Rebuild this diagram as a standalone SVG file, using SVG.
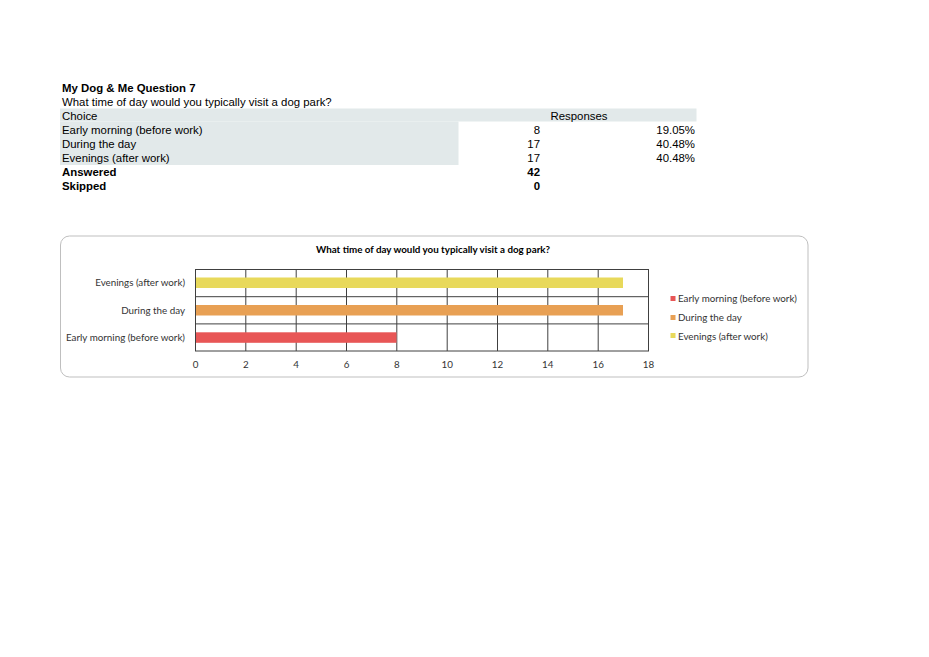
<svg xmlns="http://www.w3.org/2000/svg" width="929" height="657" viewBox="0 0 929 657">
<style>
.t{font-family:"Liberation Sans",Arial,sans-serif;font-size:11.4px;fill:#000}
.b{font-weight:bold}
.r{text-anchor:end}
.m{text-anchor:middle}
.c{font-family:Lato,"Open Sans",sans-serif;font-size:9.8px;fill:#333}
.ct{font-family:Lato,"Open Sans",sans-serif;font-size:9.8px;font-weight:bold;fill:#000}
.g{stroke:#404040;stroke-width:1;fill:none}
</style>
<rect width="929" height="657" fill="#fff"/>
<g id="table">
<rect x="60" y="108.5" width="636.5" height="13" fill="#e2e9ea"/>
<rect x="60" y="121.5" width="398.5" height="43.5" fill="#e2e9ea"/>
<text class="t b" x="62" y="91.5">My Dog &amp; Me Question 7</text>
<text class="t" x="62" y="105.5">What time of day would you typically visit a dog park?</text>
<text class="t" x="62" y="119.5">Choice</text>
<text class="t m" x="579" y="119.5">Responses</text>
<text class="t" x="62" y="133.5">Early morning (before work)</text>
<text class="t r" x="540" y="133.5">8</text>
<text class="t r" x="695" y="133.5">19.05%</text>
<text class="t" x="62" y="147.5">During the day</text>
<text class="t r" x="540" y="147.5">17</text>
<text class="t r" x="695" y="147.5">40.48%</text>
<text class="t" x="62" y="161.5">Evenings (after work)</text>
<text class="t r" x="540" y="161.5">17</text>
<text class="t r" x="695" y="161.5">40.48%</text>
<text class="t b" x="62" y="176">Answered</text>
<text class="t b r" x="540" y="176">42</text>
<text class="t b" x="62" y="190">Skipped</text>
<text class="t b r" x="540" y="190">0</text>
</g>
<g id="chart">
<rect x="60.5" y="236" width="747.5" height="141" rx="9" fill="#fff" stroke="#bfbfbf" stroke-width="1"/>
<text class="ct m" x="433" y="253">What time of day would you typically visit a dog park?</text>
<g id="grid" class="g">
<rect x="195.5" y="269.5" width="453" height="81.5"/>
<path d="M245.8 269.5V351M296.2 269.5V351M346.5 269.5V351M396.8 269.5V351M447.2 269.5V351M497.5 269.5V351M547.8 269.5V351M598.2 269.5V351M195.5 296.7H648.5M195.5 323.9H648.5"/>
</g>
<g id="bars">
<rect x="196" y="277.5" width="427" height="10.5" fill="#e8d95b"/>
<rect x="196" y="305" width="427" height="10.5" fill="#e8a054"/>
<rect x="196" y="332.3" width="200.5" height="10.5" fill="#e85656"/>
</g>
<g id="y-labels">
<text class="c r" x="185" y="286">Evenings (after work)</text>
<text class="c r" x="185" y="313.5">During the day</text>
<text class="c r" x="185" y="341">Early morning (before work)</text>
</g>
<g id="x-labels">
<text class="c m" x="195.5" y="368">0</text>
<text class="c m" x="245.8" y="368">2</text>
<text class="c m" x="296.2" y="368">4</text>
<text class="c m" x="346.5" y="368">6</text>
<text class="c m" x="396.8" y="368">8</text>
<text class="c m" x="447.2" y="368">10</text>
<text class="c m" x="497.5" y="368">12</text>
<text class="c m" x="547.8" y="368">14</text>
<text class="c m" x="598.2" y="368">16</text>
<text class="c m" x="648.5" y="368">18</text>
</g>
<g id="legend">
<rect x="670.5" y="296" width="5" height="5" fill="#e85656"/>
<text class="c" x="678" y="302">Early morning (before work)</text>
<rect x="670.5" y="315" width="5" height="5" fill="#e8a054"/>
<text class="c" x="678" y="321">During the day</text>
<rect x="670.5" y="333" width="5" height="5" fill="#e8d95b"/>
<text class="c" x="678" y="339.5">Evenings (after work)</text>
</g>
</g>
</svg>
